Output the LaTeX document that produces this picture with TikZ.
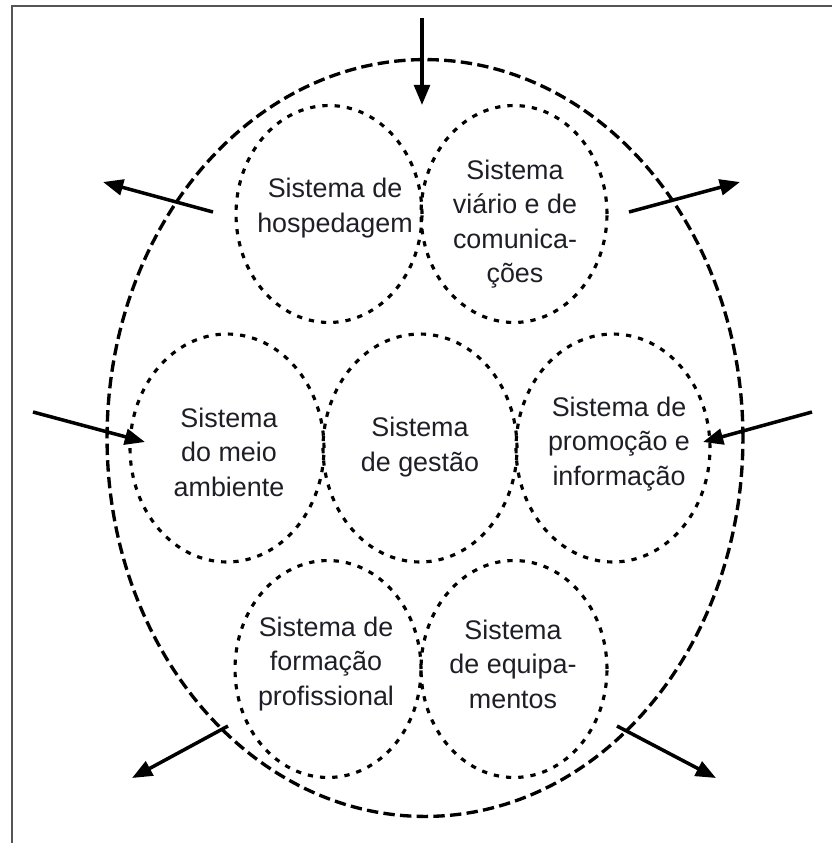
\documentclass[tikz,border=0pt]{standalone}
\usepackage{fontspec}
\setmainfont{Liberation Sans}
\usetikzlibrary{shapes.geometric,arrows.meta}
\definecolor{txtdark}{RGB}{30,30,38}
\definecolor{framegray}{RGB}{85,85,85}

\begin{document}
\begin{tikzpicture}[x=0.02cm,y=-0.02cm,
  outer/.style={ellipse,draw,line width=1.9pt,dash pattern=on 6.5pt off 3pt,
                minimum width=12.72cm,minimum height=15.14cm,inner sep=0pt},
  sub/.style={ellipse,draw,line width=1.8pt,dash pattern=on 3pt off 4pt,
              minimum width=3.72cm,minimum height=4.34cm,inner sep=0pt},
  submid/.style={sub,minimum width=3.88cm,minimum height=4.56cm},
  rotulo/.style={align=center,inner sep=0pt,text=txtdark,
                 font=\fontsize{15.3}{19.6}\selectfont},
  arr/.style={-{Triangle[length=11.5pt,width=9pt]},line width=2pt}]

  \useasboundingbox (0,0) rectangle (832,843);
  \draw[framegray,line width=1pt] (12,843) -- (12,6) -- (832,6);

  \node[outer] (turismo) at (425,438) {};

  \node[sub] (hosp) at (329,214) {};
  \node[sub] (viario) at (514,214) {};
  \node[submid] (meio) at (227,448) {};
  \node[submid] (gestao) at (420,448) {};
  \node[submid] (promo) at (613,448) {};
  \node[sub] (formacao) at (328,669) {};
  \node[sub] (equip) at (514,669) {};

  \node[rotulo] (hospT) at (335,208) {Sistema de\\hospedagem};
  \node[rotulo] (viarioT) at (515,224) {Sistema\\viário e de\\comunica-\\ções};
  \node[rotulo] (meioT) at (229,452) {Sistema\\do meio\\ambiente};
  \node[rotulo] (gestaoT) at (420,447) {Sistema\\de gestão};
  \node[rotulo] (promoT) at (619,444) {Sistema de\\promoção e\\informação};
  \node[rotulo] (formacaoT) at (326,664) {Sistema de\\formação\\profissional};
  \node[rotulo] (equipT) at (513,664) {Sistema\\de equipa-\\mentos};

  % entradas
  \coordinate (inTop) at (422,18);
  \coordinate (inTopEnd) at (422,105);
  \coordinate (inLeft) at (33,412);
  \coordinate (inLeftEnd) at (145,442);
  \coordinate (inRight) at (812,412);
  \coordinate (inRightEnd) at (703,442);
  % saidas
  \coordinate (outUL) at (213,212);
  \coordinate (outULEnd) at (103,182);
  \coordinate (outUR) at (629,212);
  \coordinate (outUREnd) at (740,182);
  \coordinate (outLL) at (228,726);
  \coordinate (outLLEnd) at (132,778);
  \coordinate (outLR) at (617,726);
  \coordinate (outLREnd) at (716,778);

  \draw[arr] (inTop) -- (inTopEnd);
  \draw[arr] (inLeft) -- (inLeftEnd);
  \draw[arr] (inRight) -- (inRightEnd);
  \draw[arr] (outUL) -- (outULEnd);
  \draw[arr] (outUR) -- (outUREnd);
  \draw[arr] (outLL) -- (outLLEnd);
  \draw[arr] (outLR) -- (outLREnd);
\end{tikzpicture}
\end{document}
